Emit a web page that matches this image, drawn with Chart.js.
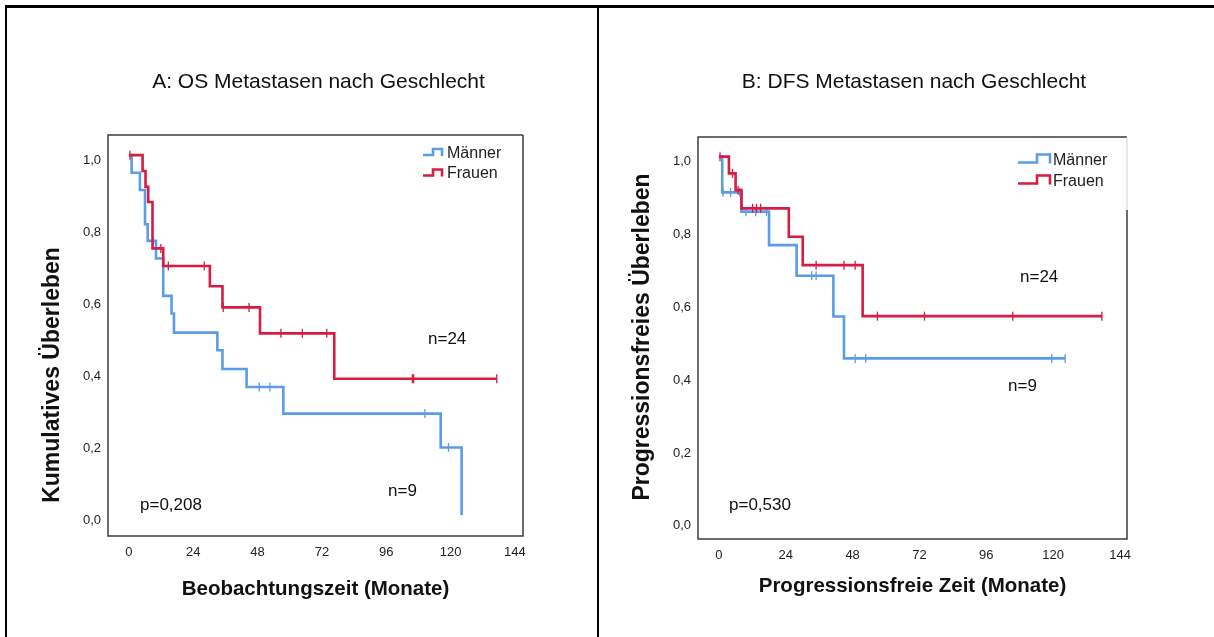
<!DOCTYPE html>
<html>
<head>
<meta charset="utf-8">
<script src="https://cdn.jsdelivr.net/npm/chart.js@4.4.1/dist/chart.umd.min.js"></script>
<style>
    body { margin: 0; background: #fff; }
    #page { position: relative; width: 1214px; height: 637px; overflow: hidden; background: #fff; }
    #page canvas { position: absolute; left: 0; top: 0; }
    .rule { position: absolute; background: #000; }
</style>
</head>
<body>
<div id="page">
    <div class="rule" style="left:5px;top:5px;width:1209px;height:3px"></div>
    <div class="rule" style="left:5px;top:5px;width:2px;height:632px"></div>
    <div class="rule" style="left:597px;top:5px;width:2px;height:632px"></div>
    <canvas id="osChart" width="1214" height="637"></canvas>
    <canvas id="dfsChart" width="1214" height="637"></canvas>
</div>
<script>
const FONT = "'Liberation Sans', Arial, Helvetica, sans-serif";
const BLUE = '#5b9ce6';
const RED = '#d81b43';

const xTicks = [0, 24, 48, 72, 96, 120, 144];
const yTicks = [0, 0.2, 0.4, 0.6, 0.8, 1.0];
const groups = ['Männer', 'Frauen'];

// A: OS - step times (months) and survival after each step
const osMaennerTime = [0, 1.0, 4.1, 6.0, 7.0, 10.1, 12.8, 15.9, 16.8, 33.0, 34.9, 43.9, 57.6, 116.3, 124.1];
const osMaennerSurv = [1.0, 0.951, 0.903, 0.808, 0.762, 0.713, 0.609, 0.560, 0.507, 0.458, 0.406, 0.356, 0.282, 0.188, 0.0];
const osMaennerCensored = [9.1, 48.6, 52.6, 110.4, 119.2];

const osFrauenTime = [0, 5.1, 6.2, 7.2, 8.8, 12.8, 30.2, 34.9, 48.9, 76.6, 137.2];
const osFrauenSurv = [1.0, 0.956, 0.912, 0.870, 0.741, 0.692, 0.636, 0.577, 0.505, 0.379, 0.379];
const osFrauenCensored = [0.4, 11.9, 14.7, 28.1, 35.2, 44.8, 56.7, 64.7, 73.8, 105.7, 106.2, 137.2];

// B: DFS
const dfsMaennerTime = [0, 1.2, 8.1, 18.0, 27.9, 41.1, 44.9, 124.3];
const dfsMaennerSurv = [1.0, 0.902, 0.849, 0.757, 0.673, 0.561, 0.446, 0.446];
const dfsMaennerCensored = [1.5, 4.2, 7.5, 9.7, 13.2, 17.1, 33.3, 34.9, 48.9, 52.7, 119.5, 124.3];

const dfsFrauenTime = [0, 3.6, 6.0, 8.1, 25.1, 30.1, 51.6, 137.5];
const dfsFrauenSurv = [1.0, 0.954, 0.908, 0.858, 0.780, 0.702, 0.562, 0.562];
const dfsFrauenCensored = [0.4, 4.9, 6.9, 12.1, 13.5, 15.0, 34.9, 44.9, 48.9, 56.9, 73.8, 105.5, 137.5];

function survivalAt(times, surv, t) {
    let s = surv[0];
    times.forEach((time, i) => { if (time <= t) s = surv[i]; });
    return s;
}

function kmDatasets(label, color, times, surv, censored) {
    return [
        {
            label: label,
            data: times.map((t, i) => ({ x: t, y: surv[i] })),
            showLine: true,
            stepped: true,
            borderColor: color,
            borderWidth: 2.6,
            pointRadius: 0,
            fill: false
        },
        {
            label: label + ' zensiert',
            data: censored.map(t => ({ x: t, y: survivalAt(times, surv, t) })),
            showLine: false,
            pointStyle: 'line',
            pointRotation: 90,
            pointRadius: 4.5,
            pointBorderWidth: 1.3,
            pointBorderColor: color,
            borderColor: color
        }
    ];
}

// box, titles, notes and the step legend
const panelPlugin = {
    id: 'panel',
    beforeDatasetsDraw(chart, args, opts) {
        const { ctx, chartArea: a } = chart;
        ctx.save();
        ctx.strokeStyle = '#3c3c3c';
        ctx.lineWidth = 1.5;
        ctx.beginPath();
        ctx.moveTo(a.right, a.top);
        ctx.lineTo(a.left, a.top);
        ctx.lineTo(a.left, a.bottom);
        ctx.lineTo(a.right, a.bottom);
        ctx.lineTo(a.right, opts.borderSplit || a.top);
        ctx.stroke();
        if (opts.borderSplit) {
            ctx.strokeStyle = '#cfcfcf';
            ctx.lineWidth = 1;
            ctx.beginPath();
            ctx.moveTo(a.right, a.top);
            ctx.lineTo(a.right, opts.borderSplit);
            ctx.stroke();
        }
        ctx.restore();
    },
    afterDraw(chart, args, opts) {
        const ctx = chart.ctx;
        ctx.save();
        ctx.fillStyle = '#111';
        ctx.textBaseline = 'middle';

        ctx.font = `21px ${FONT}`;
        ctx.textAlign = 'center';
        ctx.fillText(opts.title, opts.titleX, opts.titleY);

        ctx.save();
        ctx.translate(opts.yTitleX, opts.yTitleY);
        ctx.rotate(-Math.PI / 2);
        ctx.font = `bold 23px ${FONT}`;
        ctx.fillText(opts.yTitle, 0, 0);
        ctx.restore();

        ctx.font = `17px ${FONT}`;
        ctx.textAlign = 'left';
        opts.notes.forEach(n => ctx.fillText(n.text, n.x, n.y));

        const lg = opts.legend;
        ctx.font = `16px ${FONT}`;
        ctx.fillStyle = '#222';
        lg.rows.forEach(r => {
            ctx.strokeStyle = r.color;
            ctx.lineWidth = 2.6;
            ctx.beginPath();
            ctx.moveTo(lg.x0, r.y);
            ctx.lineTo(lg.xs, r.y);
            ctx.lineTo(lg.xs, r.y - lg.rise);
            ctx.lineTo(lg.x2, r.y - lg.rise);
            ctx.lineTo(lg.x2, r.y + 1);
            ctx.stroke();
            ctx.fillText(r.label, lg.textX, r.y - lg.textUp);
        });
        ctx.restore();
    }
};

function makeChart(id, cfg) {
    return new Chart(document.getElementById(id), {
        type: 'scatter',
        data: { datasets: cfg.datasets },
        options: {
            responsive: false,
            animation: false,
            events: [],
            layout: { padding: cfg.padding },
            scales: {
                x: {
                    type: 'linear',
                    min: cfg.xMin,
                    max: cfg.xMax,
                    grid: { display: false, drawTicks: false },
                    border: { display: false },
                    afterBuildTicks: s => { s.ticks = xTicks.map(v => ({ value: v })); },
                    afterFit: s => { s.height = 70; },
                    ticks: { padding: 9, maxRotation: 0, color: '#222', font: { family: FONT, size: 13 } },
                    title: {
                        display: true,
                        text: cfg.xTitle,
                        color: '#111',
                        font: { family: FONT, size: 20.5, weight: 'bold' },
                        padding: { top: 0, bottom: cfg.xTitlePad }
                    }
                },
                y: {
                    type: 'linear',
                    min: cfg.yMin,
                    max: cfg.yMax,
                    grid: { display: false, drawTicks: false },
                    border: { display: false },
                    afterBuildTicks: s => { s.ticks = yTicks.map(v => ({ value: v })); },
                    afterFit: s => { s.width = 70; },
                    ticks: {
                        padding: 7,
                        labelOffset: 5,
                        color: '#222',
                        font: { family: FONT, size: 13 },
                        callback: v => v.toFixed(1).replace('.', ',')
                    }
                }
            },
            plugins: {
                legend: { display: false },
                tooltip: { enabled: false },
                panel: cfg.panel
            }
        },
        plugins: [panelPlugin]
    });
}

makeChart('osChart', {
    datasets: [
        ...kmDatasets(groups[1], RED, osFrauenTime, osFrauenSurv, osFrauenCensored),
        ...kmDatasets(groups[0], BLUE, osMaennerTime, osMaennerSurv, osMaennerCensored)
    ],
    padding: { left: 38, top: 135, right: 691, bottom: 31 },
    xMin: -7.8, xMax: 147, yMin: -0.058, yMax: 1.056,
    xTitle: 'Beobachtungszeit (Monate)',
    xTitlePad: 4,
    panel: {
        title: 'A: OS Metastasen nach Geschlecht', titleX: 318.5, titleY: 82,
        yTitle: 'Kumulatives Überleben', yTitleX: 53, yTitleY: 375,
        notes: [
            { text: 'n=24', x: 428, y: 339 },
            { text: 'n=9', x: 388, y: 491 },
            { text: 'p=0,208', x: 140, y: 505 }
        ],
        legend: {
            x0: 423, xs: 433, x2: 442, rise: 6, textX: 447, textUp: 1.5,
            rows: [
                { label: groups[0], color: BLUE, y: 155 },
                { label: groups[1], color: RED, y: 175.5 }
            ]
        }
    }
});

makeChart('dfsChart', {
    datasets: [
        ...kmDatasets(groups[1], RED, dfsFrauenTime, dfsFrauenSurv, dfsFrauenCensored),
        ...kmDatasets(groups[0], BLUE, dfsMaennerTime, dfsMaennerSurv, dfsMaennerCensored)
    ],
    padding: { left: 628, top: 137, right: 87, bottom: 28 },
    xMin: -7.5, xMax: 146.5, yMin: -0.05, yMax: 1.054,
    xTitle: 'Progressionsfreie Zeit (Monate)',
    xTitlePad: 10,
    panel: {
        title: 'B: DFS Metastasen nach Geschlecht', titleX: 914, titleY: 82,
        yTitle: 'Progressionsfreies Überleben', yTitleX: 643, yTitleY: 337,
        notes: [
            { text: 'n=24', x: 1020, y: 277 },
            { text: 'n=9', x: 1008, y: 386 },
            { text: 'p=0,530', x: 729, y: 505 }
        ],
        legend: {
            x0: 1018, xs: 1037, x2: 1050, rise: 8, textX: 1053, textUp: 2,
            rows: [
                { label: groups[0], color: BLUE, y: 162.5 },
                { label: groups[1], color: RED, y: 183.5 }
            ]
        },
        borderSplit: 210
    }
});
</script>
</body>
</html>
